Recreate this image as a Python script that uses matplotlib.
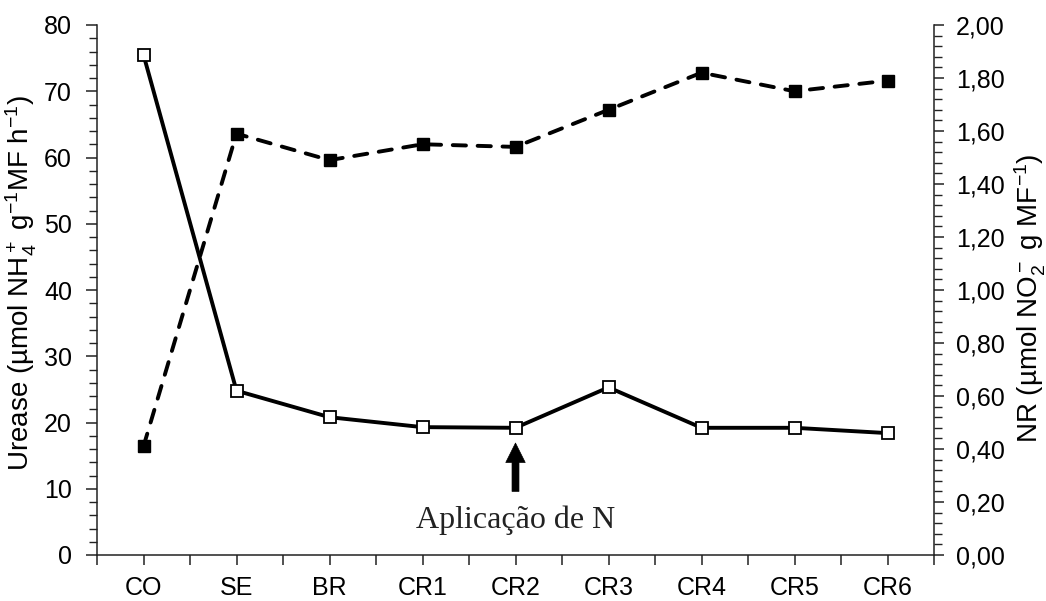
import matplotlib
matplotlib.use("Agg")
import matplotlib.pyplot as plt
from matplotlib.ticker import MultipleLocator, FixedLocator, FuncFormatter
import numpy as np

categories = ["CO", "SE", "BR", "CR1", "CR2", "CR3", "CR4", "CR5", "CR6"]
urease = [75.5, 24.8, 20.8, 19.3, 19.2, 25.3, 19.2, 19.2, 18.4]
nr = [0.41, 1.59, 1.49, 1.55, 1.54, 1.68, 1.82, 1.75, 1.79]
annot_text = "Aplicação de N"
annot_cat = "CR2"

plt.rcParams['font.family'] = ['Liberation Sans', 'DejaVu Sans']
plt.rcParams['mathtext.fontset'] = 'custom'
plt.rcParams['mathtext.rm'] = 'Liberation Sans'
plt.rcParams['mathtext.it'] = 'Liberation Sans:italic'
plt.rcParams['mathtext.bf'] = 'Liberation Sans:bold'
plt.rcParams['mathtext.default'] = 'rm'

W, H = 1046, 601
fig = plt.figure(figsize=(W/100, H/100), dpi=100)
L, R, B, T = 97, 934, 555, 25
ax = fig.add_axes([L/W, 1-B/H, (R-L)/W, (B-T)/H])
ax2 = ax.twinx()

x = np.arange(len(categories))
spine_col = '#222222'
tick_fs = 18

ax.plot(x, urease, color='black', lw=2.8, marker='s', ms=9, mfc='white',
        mec='black', mew=1.3, zorder=3, solid_capstyle='round')
ax2.plot(x, nr, color='black', lw=2.8, marker='s', ms=9, mfc='black',
         mec='black', linestyle=(0, (3.4, 3.0)), dash_capstyle='round', zorder=3)

ax.set_xlim(-0.5, len(categories) - 0.5)
ax.set_ylim(0, 80)
ax2.set_ylim(0, 2.0)

ax.xaxis.set_major_locator(FixedLocator(np.arange(-0.5, len(categories), 1.0)))
ax.xaxis.set_major_formatter(FuncFormatter(lambda v, p: ""))
ax.set_xticks(x, minor=True)
ax.set_xticklabels(categories, minor=True)
ax.tick_params(axis='x', which='both', length=7, width=1.1, color=spine_col,
               direction='out', labelsize=tick_fs, pad=8)

ax.yaxis.set_major_locator(MultipleLocator(10))
ax.yaxis.set_minor_locator(MultipleLocator(2))
ax.tick_params(axis='y', which='major', length=8, width=1.1, color=spine_col,
               direction='out', labelsize=tick_fs, pad=10)
ax.tick_params(axis='y', which='minor', length=5.5, width=1.0, color=spine_col,
               direction='out')

ax2.yaxis.set_major_locator(MultipleLocator(0.2))
ax2.yaxis.set_minor_locator(MultipleLocator(0.04))
ax2.yaxis.set_major_formatter(FuncFormatter(lambda v, p: f"{v:.2f}".replace('.', ',')))
ax2.tick_params(axis='y', which='major', length=7, width=1.1, color=spine_col,
                direction='out', labelsize=tick_fs, pad=9)
ax2.tick_params(axis='y', which='minor', length=5.5, width=1.0, color=spine_col,
                direction='out')

for a in (ax, ax2):
    a.spines['top'].set_visible(False)
    for s in ('left', 'right', 'bottom'):
        a.spines[s].set_color(spine_col)
        a.spines[s].set_linewidth(1.1)
ax.spines['right'].set_visible(False)
ax2.spines['left'].set_visible(False)
ax2.spines['bottom'].set_visible(False)

fig.text(21/W, 1 - 283/H, 'Urease (µmol NH$_4^+$ g$^{-1}$MF h$^{-1}$)',
         rotation=90, ha='center', va='center', fontsize=20)
fig.text(1030/W, 1 - 298/H, 'NR (µmol NO$_2^-$ g MF$^{-1}$)',
         rotation=90, ha='center', va='center', fontsize=20)

# arrow + annotation
xi = categories.index(annot_cat)
ax.annotate('', xy=(xi, 16.9), xytext=(xi, 9.6),
            arrowprops=dict(arrowstyle='simple,head_length=1.4,head_width=1.4,tail_width=0.5',
                            fc='black', ec='black', lw=0.5, shrinkA=0, shrinkB=0))
ax.text(xi, 5.3, annot_text, ha='center', va='center', fontsize=23,
        family=['Liberation Serif', 'DejaVu Serif'], color='#222222')

fig.savefig('out.png', dpi=100)
